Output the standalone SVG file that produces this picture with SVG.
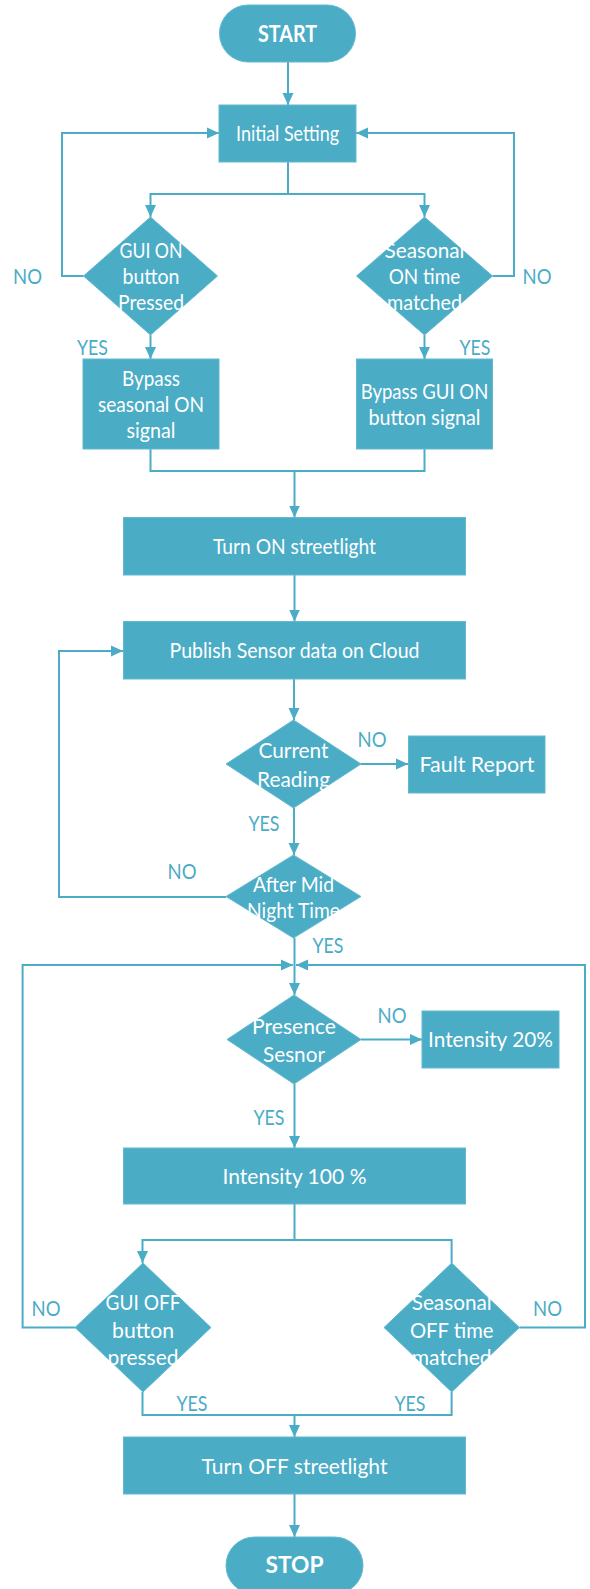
<svg xmlns="http://www.w3.org/2000/svg" width="590" height="1589" viewBox="0 0 590 1589">
<style>
.n{fill:#4bacc6;stroke:#62b9d1;stroke-width:1}
.t{fill:#ffffff;font-family:Lato,"Open Sans",sans-serif;font-size:21px;text-anchor:middle}
.b{font-weight:bold;font-size:22px}
.l{fill:#4bacc6;font-family:Lato,"Open Sans",sans-serif;font-size:21px;text-anchor:middle}
.c{fill:none;stroke:#4bacc6;stroke-width:2}
</style>
<defs>
<marker id="ah" markerUnits="userSpaceOnUse" markerWidth="12" markerHeight="12" viewBox="0 0 12 12" refX="12" refY="6" orient="auto">
<path d="M0,0.5 L12,6 L0,11.5 z" fill="#4bacc6"/>
</marker>
</defs>
<rect width="590" height="1589" fill="#ffffff"/>
<g id="connectors">
<path class="c" d="M288,62 V105" marker-end="url(#ah)"/>
<path class="c" d="M288,162 V194 H150.5 V217" marker-end="url(#ah)"/>
<path class="c" d="M288,194 H424.5 V217" marker-end="url(#ah)"/>
<path class="c" d="M83.5,276 H62 V133 H219" marker-end="url(#ah)"/>
<path class="c" d="M492.5,276 H514 V133 H356" marker-end="url(#ah)"/>
<path class="c" d="M150.5,335 V359" marker-end="url(#ah)"/>
<path class="c" d="M424.5,335 V359" marker-end="url(#ah)"/>
<path class="c" d="M150.5,449 V471 H424.5 V449"/>
<path class="c" d="M294.5,471 V517.5" marker-end="url(#ah)"/>
<path class="c" d="M294.5,575 V621.5" marker-end="url(#ah)"/>
<path class="c" d="M294,679 V720" marker-end="url(#ah)"/>
<path class="c" d="M361,764 H408" marker-end="url(#ah)"/>
<path class="c" d="M294,808 V855" marker-end="url(#ah)"/>
<path class="c" d="M226,897 H59 V651 H123" marker-end="url(#ah)"/>
<path class="c" d="M294.5,938 V995" marker-end="url(#ah)"/>
<path class="c" d="M75,1327.5 H22.6 V965 H293" marker-end="url(#ah)"/>
<path class="c" d="M519.4,1327.5 H585 V965 H296" marker-end="url(#ah)"/>
<path class="c" d="M361,1039.5 H422" marker-end="url(#ah)"/>
<path class="c" d="M294.5,1084 V1148" marker-end="url(#ah)"/>
<path class="c" d="M294.5,1204 V1240 H142.5 V1263" marker-end="url(#ah)"/>
<path class="c" d="M294.5,1240 H451.6 V1263"/>
<path class="c" d="M142.5,1392 V1415 H451.6 V1392"/>
<path class="c" d="M294.5,1415 V1437" marker-end="url(#ah)"/>
<path class="c" d="M294.5,1494 V1537" marker-end="url(#ah)"/>
</g>
<g id="start">
<rect class="n" x="219.5" y="5" width="136" height="57" rx="28.5"/>
<text class="t b" x="287.5" y="41.5" textLength="59" lengthAdjust="spacingAndGlyphs">START</text>
</g>
<g id="initial">
<rect class="n" x="219" y="105" width="137" height="57"/>
<text class="t" x="287.5" y="141" textLength="103" lengthAdjust="spacingAndGlyphs">Initial Setting</text>
</g>
<g id="gui-on">
<polygon class="n" points="150.5,217 217.5,276 150.5,335 83.5,276"/>
<text class="t" x="151" y="257.5" textLength="63" lengthAdjust="spacingAndGlyphs">GUI ON</text>
<text class="t" x="151" y="283.5" textLength="57" lengthAdjust="spacingAndGlyphs">button</text>
<text class="t" x="151" y="309.5" textLength="66" lengthAdjust="spacingAndGlyphs">Pressed</text>
</g>
<g id="seasonal-on">
<polygon class="n" points="424.5,217 492.5,276 424.5,335 356.5,276"/>
<text class="t" x="424.5" y="257.5" textLength="80" lengthAdjust="spacingAndGlyphs">Seasonal</text>
<text class="t" x="424.5" y="283.5" textLength="71.5" lengthAdjust="spacingAndGlyphs">ON time</text>
<text class="t" x="424.5" y="309.5" textLength="75" lengthAdjust="spacingAndGlyphs">matched</text>
</g>
<g id="bypass-seasonal">
<rect class="n" x="83" y="359" width="136" height="90"/>
<text class="t" x="151" y="385.5" textLength="58" lengthAdjust="spacingAndGlyphs">Bypass</text>
<text class="t" x="151" y="411.5" textLength="106" lengthAdjust="spacingAndGlyphs">seasonal ON</text>
<text class="t" x="151" y="437.5" textLength="49" lengthAdjust="spacingAndGlyphs">signal</text>
</g>
<g id="bypass-gui">
<rect class="n" x="356.5" y="359" width="136" height="90"/>
<text class="t" x="424.5" y="398.5" textLength="127.5" lengthAdjust="spacingAndGlyphs">Bypass GUI ON</text>
<text class="t" x="424.5" y="424.5" textLength="112" lengthAdjust="spacingAndGlyphs">button signal</text>
</g>
<g id="turn-on">
<rect class="n" x="123.5" y="517.5" width="342" height="57.5"/>
<text class="t" x="294.5" y="554" textLength="163" lengthAdjust="spacingAndGlyphs">Turn ON streetlight</text>
</g>
<g id="publish">
<rect class="n" x="123.5" y="621.5" width="342" height="57.5"/>
<text class="t" x="294.5" y="657.5" textLength="250" lengthAdjust="spacingAndGlyphs">Publish Sensor data on Cloud</text>
</g>
<g id="current">
<polygon class="n" points="293.5,720 361,764 293.5,808 226,764"/>
<text class="t" x="293.5" y="757.5" textLength="70" lengthAdjust="spacingAndGlyphs">Current</text>
<text class="t" x="293.5" y="786.5" textLength="73" lengthAdjust="spacingAndGlyphs">Reading</text>
</g>
<g id="fault">
<rect class="n" x="408.5" y="736" width="136.5" height="57"/>
<text class="t" x="477" y="771.5" textLength="115" lengthAdjust="spacingAndGlyphs">Fault Report</text>
</g>
<g id="midnight">
<polygon class="n" points="293.5,855 361,896.5 293.5,938 226,896.5"/>
<text class="t" x="293.5" y="891.5" textLength="81" lengthAdjust="spacingAndGlyphs">After Mid</text>
<text class="t" x="293.5" y="917.5" textLength="93" lengthAdjust="spacingAndGlyphs">Night Time</text>
</g>
<g id="presence">
<polygon class="n" points="294,995 361,1039.5 294,1084 227,1039.5"/>
<text class="t" x="294" y="1033.5" textLength="84" lengthAdjust="spacingAndGlyphs">Presence</text>
<text class="t" x="294" y="1061.5" textLength="62" lengthAdjust="spacingAndGlyphs">Sesnor</text>
</g>
<g id="intensity20">
<rect class="n" x="422" y="1011" width="137" height="57"/>
<text class="t" x="490.5" y="1046.5" textLength="125" lengthAdjust="spacingAndGlyphs">Intensity 20%</text>
</g>
<g id="intensity100">
<rect class="n" x="123.5" y="1148" width="342" height="56"/>
<text class="t" x="294.5" y="1183.5" textLength="144" lengthAdjust="spacingAndGlyphs">Intensity 100 %</text>
</g>
<g id="gui-off">
<polygon class="n" points="143,1263 211,1327.5 143,1392 75,1327.5"/>
<text class="t" x="143" y="1309.5" textLength="75" lengthAdjust="spacingAndGlyphs">GUI OFF</text>
<text class="t" x="143" y="1337.5" textLength="62" lengthAdjust="spacingAndGlyphs">button</text>
<text class="t" x="143" y="1364.5" textLength="71" lengthAdjust="spacingAndGlyphs">pressed</text>
</g>
<g id="seasonal-off">
<polygon class="n" points="451.7,1263 519.4,1327.5 451.7,1392 384,1327.5"/>
<text class="t" x="451.7" y="1309.5" textLength="80" lengthAdjust="spacingAndGlyphs">Seasonal</text>
<text class="t" x="451.7" y="1337.5" textLength="83.5" lengthAdjust="spacingAndGlyphs">OFF time</text>
<text class="t" x="451.7" y="1364.5" textLength="80" lengthAdjust="spacingAndGlyphs">matched</text>
</g>
<g id="turn-off">
<rect class="n" x="123.5" y="1437" width="342" height="57"/>
<text class="t" x="294.5" y="1473.5" textLength="186" lengthAdjust="spacingAndGlyphs">Turn OFF streetlight</text>
</g>
<g id="stop">
<rect class="n" x="226" y="1537" width="137" height="57" rx="28.5"/>
<text class="t b" x="294.5" y="1573" textLength="58" lengthAdjust="spacingAndGlyphs">STOP</text>
</g>
<g id="labels">
<text class="l" x="27.5" y="283.5" textLength="29" lengthAdjust="spacingAndGlyphs">NO</text>
<text class="l" x="537" y="283.5" textLength="29" lengthAdjust="spacingAndGlyphs">NO</text>
<text class="l" x="92.5" y="354.5" textLength="31" lengthAdjust="spacingAndGlyphs">YES</text>
<text class="l" x="475" y="354.5" textLength="31" lengthAdjust="spacingAndGlyphs">YES</text>
<text class="l" x="372" y="746.5" textLength="29" lengthAdjust="spacingAndGlyphs">NO</text>
<text class="l" x="264" y="830.5" textLength="31" lengthAdjust="spacingAndGlyphs">YES</text>
<text class="l" x="182" y="878.5" textLength="29" lengthAdjust="spacingAndGlyphs">NO</text>
<text class="l" x="328" y="952.5" textLength="31" lengthAdjust="spacingAndGlyphs">YES</text>
<text class="l" x="392" y="1022.5" textLength="29" lengthAdjust="spacingAndGlyphs">NO</text>
<text class="l" x="269" y="1124.5" textLength="31" lengthAdjust="spacingAndGlyphs">YES</text>
<text class="l" x="46" y="1315.5" textLength="29" lengthAdjust="spacingAndGlyphs">NO</text>
<text class="l" x="547.5" y="1315.5" textLength="29" lengthAdjust="spacingAndGlyphs">NO</text>
<text class="l" x="192" y="1410.5" textLength="31" lengthAdjust="spacingAndGlyphs">YES</text>
<text class="l" x="410" y="1410.5" textLength="31" lengthAdjust="spacingAndGlyphs">YES</text>
</g>
</svg>
